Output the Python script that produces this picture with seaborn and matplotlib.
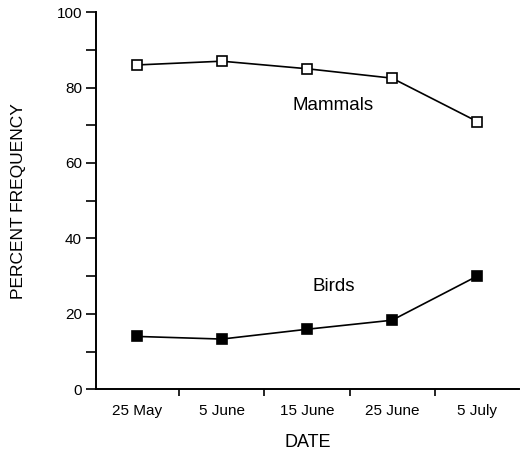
import pandas as pd
import matplotlib.pyplot as plt
import seaborn as sns

# Dados
datas = ['25 May', '5 June', '15 June', '25 June', '5 July']
mamiferos = [86, 87, 85, 82.5, 71]
aves = [14, 13.3, 15.9, 18.3, 30]

df = pd.DataFrame({'pos': range(len(datas)), 'Mammals': mamiferos, 'Birds': aves})

sns.set_style('ticks')
plt.rcParams['font.family'] = ['Liberation Sans', 'DejaVu Sans']
plt.rcParams['text.color'] = 'black'
plt.rcParams['axes.labelcolor'] = 'black'
plt.rcParams['axes.edgecolor'] = 'black'
plt.rcParams['xtick.color'] = 'black'
plt.rcParams['ytick.color'] = 'black'

fig = plt.figure(figsize=(5.21, 4.51), dpi=100)
ax = fig.add_axes([0.184, 0.137, 0.812, 0.836])

sns.lineplot(x='pos', y='Mammals', data=df, ax=ax, color='black', marker='s',
             markersize=6.5, markerfacecolor='white', markeredgecolor='black',
             markeredgewidth=1.2, linewidth=1.2)
sns.lineplot(x='pos', y='Birds', data=df, ax=ax, color='black', marker='s',
             markersize=6.5, markerfacecolor='black', markeredgecolor='black',
             markeredgewidth=1.2, linewidth=1.2)

ax.text(2.31, 75.3, 'Mammals', ha='center', va='center', fontsize=13.5)
ax.text(2.31, 27.3, 'Birds', ha='center', va='center', fontsize=13.5)

ax.set_xlim(-0.48, 4.49)
ax.set_ylim(0, 100)
ax.set_xticks([0.5, 1.5, 2.5, 3.5])
ax.set_xticklabels([])
ax.set_xticks(range(len(datas)), minor=True)
ax.set_xticklabels(datas, minor=True, fontsize=11)
ax.tick_params(axis='x', which='minor', length=0, pad=11)
ax.tick_params(axis='x', which='major', length=5, width=1.2, direction='out')
ax.set_yticks([0, 20, 40, 60, 80, 100])
ax.set_yticks([10, 30, 50, 70, 90], minor=True)
ax.tick_params(axis='y', which='both', length=7, width=1.2, labelsize=11, pad=3)

for lado in ['left', 'bottom']:
    ax.spines[lado].set_linewidth(1.4)
sns.despine(ax=ax)

ax.set_xlabel('DATE', fontsize=13, labelpad=11)
ax.set_ylabel('PERCENT FREQUENCY', fontsize=12.5, labelpad=22)

plt.savefig('out.png', dpi=100)
